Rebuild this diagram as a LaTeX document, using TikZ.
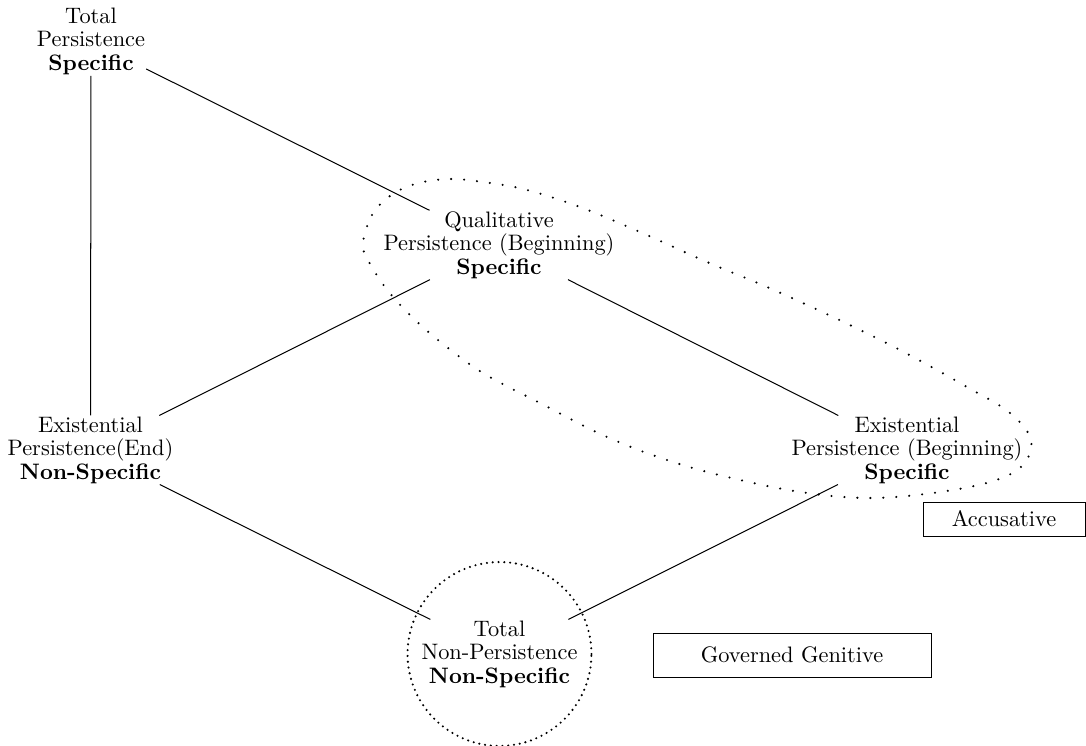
\documentclass[tikz,border=0pt]{standalone}
\usetikzlibrary{positioning}
\begin{document}
\begin{tikzpicture}[x={(0.447pt,0)},y={(0,-0.447pt)},
  concept/.style={align=center,inner sep=0.5pt,outer sep=0pt,font=\fontsize{10}{10.5}\selectfont},
  casebox/.style={draw,line width=0.4pt,inner sep=2pt,font=\fontsize{10}{10.5}\selectfont},
  link/.style={line width=0.45pt},
  ring/.style={line width=1.05pt,line cap=round,dash pattern=on 0pt off 2.6pt},
  egg/.style={line width=1.05pt,line cap=round,dash pattern=on 0pt off 5.8pt}]
\useasboundingbox (0,0) rectangle (1086,746);
\node[concept] (tl) at (91,41.4) {Total\\Persistence\\\textbf{Specific}};
\node[concept] (q) at (499,245) {Qualitative\\Persistence (Beginning)\\\textbf{Specific}};
\node[concept] (l) at (90.5,450) {Existential\\Persistence(End)\\\textbf{Non-Specific}};
\node[concept] (r) at (907,450) {Existential\\Persistence (Beginning)\\\textbf{Specific}};
\node[concept] (b) at (499.5,654) {Total\\Non-Persistence\\\textbf{Non-Specific}};
\node[casebox,minimum width=72.4pt,minimum height=15.2pt] (acc) at (1004,519) {Accusative};
\node[casebox,minimum width=124.3pt,minimum height=19.7pt] (gen) at (792,655) {Governed Genitive};
\draw[link] (tl) -- (q);
\draw[link] (tl) -- (l);
\draw[link] (q) -- (l);
\draw[link] (q) -- (r);
\draw[link] (l) -- (b);
\draw[link] (r) -- (b);
\draw[ring] (b.center) circle[radius=41.1pt];
\draw[egg] plot[smooth cycle,tension=0.6] coordinates{
 (363,243) (372,215) (390,196) (415,184) (450,179) (490,183) (527,190)
 (580,207) (640,232) (707,262) (767,287) (833,317) (900,350) (967,387)
 (1010,413) (1031,440) (1022,466) (990,482) (933,493) (870,498) (807,493)
 (740,480) (673,462) (607,437) (540,403) (483,373) (438,340) (408,313)
 (385,287) (368,260)};
\end{tikzpicture}
\end{document}
